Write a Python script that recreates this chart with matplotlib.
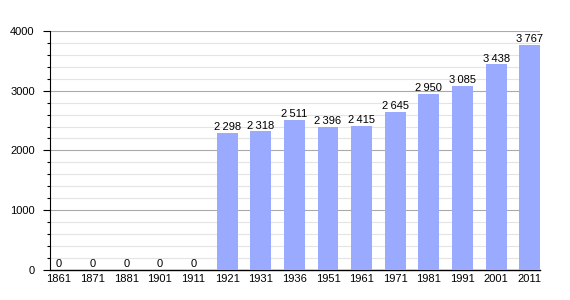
import matplotlib
matplotlib.use("Agg")
import matplotlib.pyplot as plt
from matplotlib.ticker import MultipleLocator

years = ["1861", "1871", "1881", "1901", "1911", "1921", "1931", "1936",
         "1951", "1961", "1971", "1981", "1991", "2001", "2011"]
population = [0, 0, 0, 0, 0, 2298, 2318, 2511, 2396, 2415, 2645, 2950,
              3085, 3438, 3767]

plt.rcParams["font.family"] = ["Liberation Sans", "DejaVu Sans"]

fig = plt.figure(figsize=(5.7, 3.0), dpi=100)
ax = fig.add_axes([0.0877, 0.1, 0.86, 0.797])

x = list(range(len(years)))
ax.bar(x, population, width=0.62, color="#99aaff", zorder=3)
for xi, v in zip(x, population):
    label = f"{v:,}".replace(",", "\u2009")
    ax.text(xi, v + 15, label, ha="center", va="bottom", fontsize=8, zorder=4)

ax.set_xlim(-0.27, len(years) - 1 + 0.31)
ax.set_ylim(0, 4000)
ax.set_xticks(x)
ax.set_xticklabels(years, fontsize=8)
ax.yaxis.set_major_locator(MultipleLocator(1000))
ax.yaxis.set_minor_locator(MultipleLocator(200))
ax.tick_params(axis="y", labelsize=8, length=5, width=0.8, pad=6)
ax.tick_params(axis="y", which="minor", length=2.5, width=0.8)
ax.tick_params(axis="x", length=0, pad=3)

ax.grid(axis="y", which="major", color="#aaaaaa", linewidth=0.8, zorder=0)
ax.grid(axis="y", which="minor", color="#e4e4e4", linewidth=0.8, zorder=0)
for s in ["top", "right"]:
    ax.spines[s].set_visible(False)
ax.spines["left"].set_linewidth(0.8)
ax.spines["bottom"].set_linewidth(1.0)

fig.savefig("out.png", dpi=100)
